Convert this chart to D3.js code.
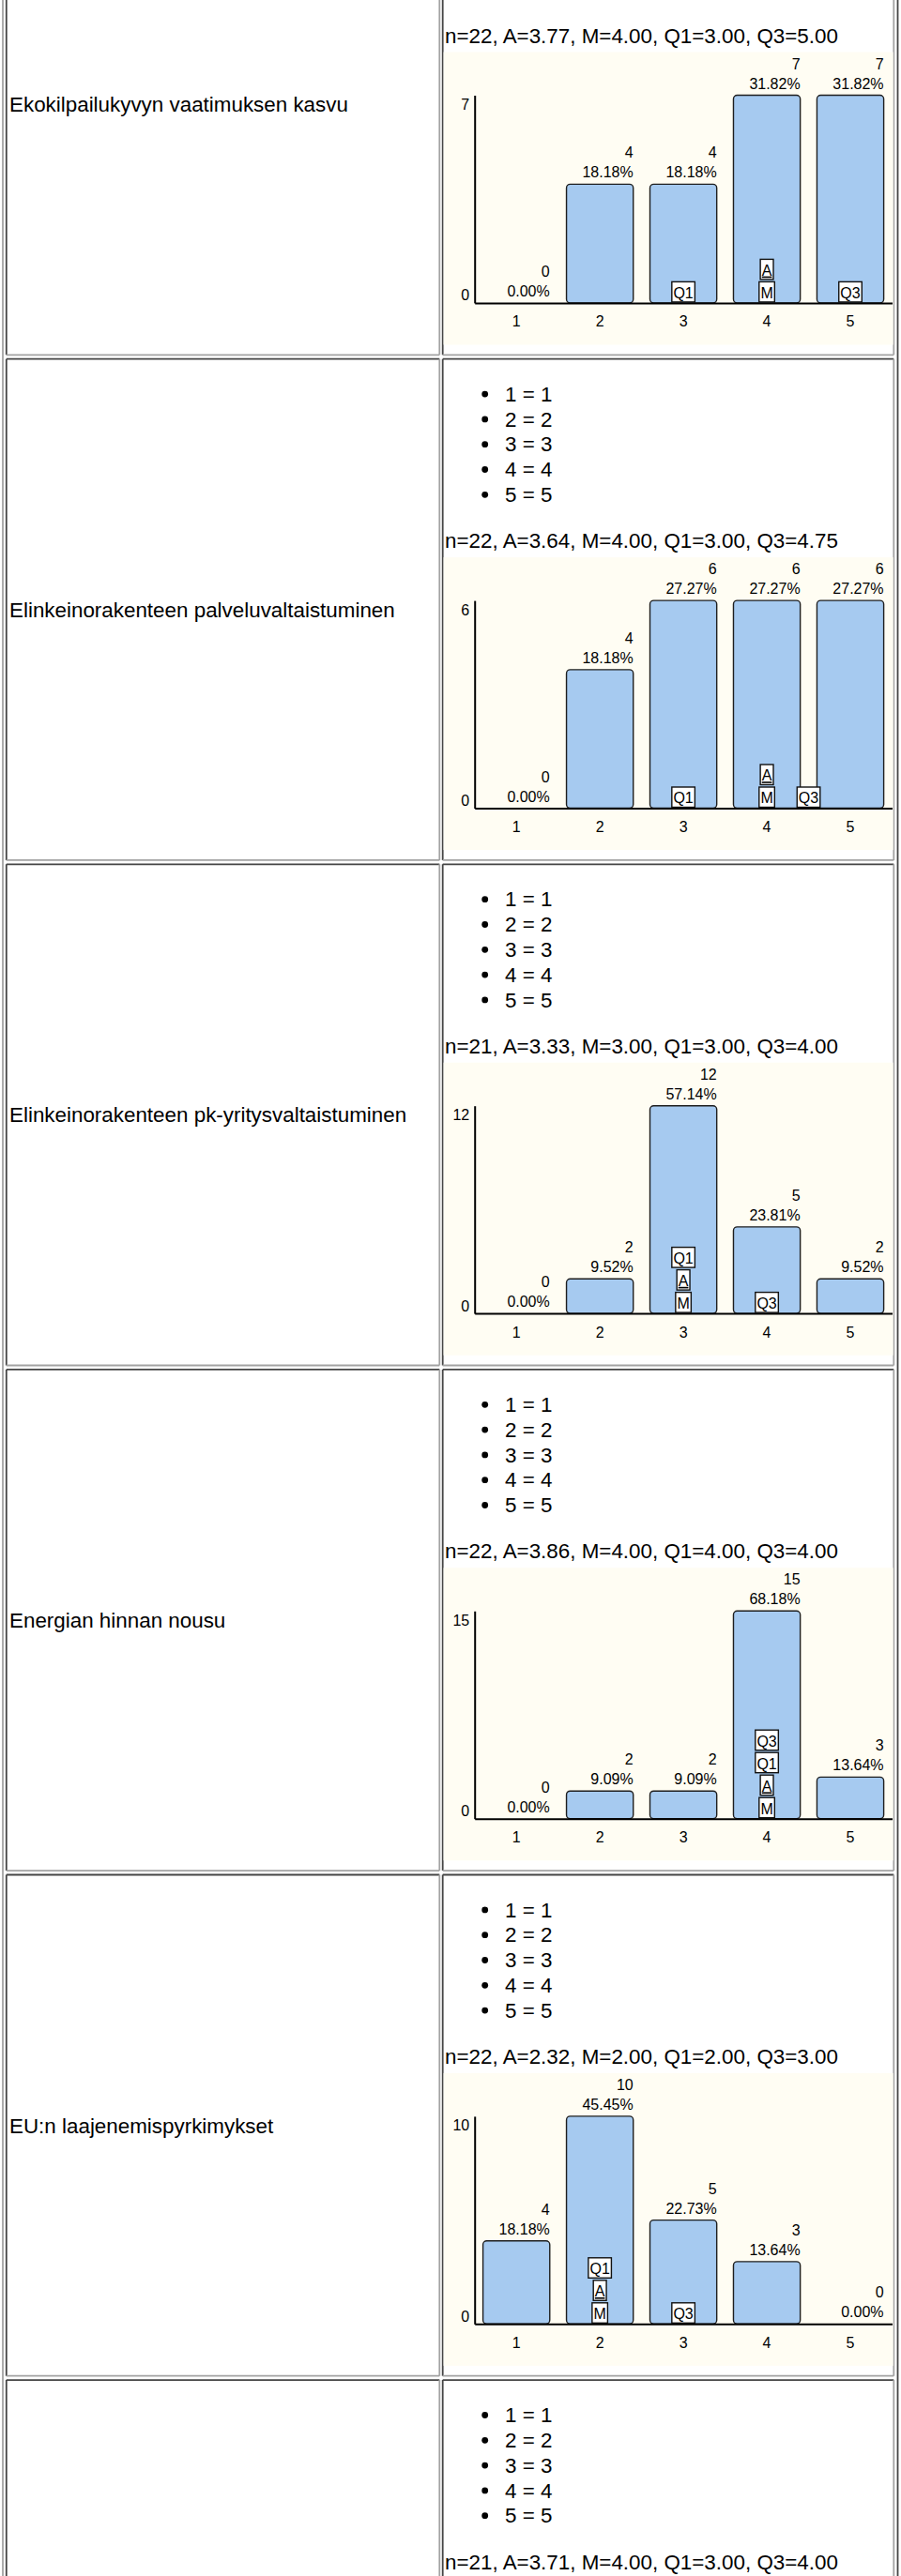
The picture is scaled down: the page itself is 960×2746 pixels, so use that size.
<!DOCTYPE html>
<html>
<head>
<meta charset="utf-8">
<script src="https://cdn.jsdelivr.net/npm/d3@7"></script>
<style>
  html, body { margin: 0; padding: 0; background: #ffffff; }
  svg { display: block; }
  text { font-family: "Liberation Sans", Arial, Helvetica, sans-serif; }
</style>
</head>
<body>
<div id="chart"></div>
<script>
// ---------------- DATA ----------------
const categories = ["1", "2", "3", "4", "5"];
const legendItems = ["1 = 1", "2 = 2", "3 = 3", "4 = 4", "5 = 5"];
const rowLabels = [
  "Ekokilpailukyvyn vaatimuksen kasvu",
  "Elinkeinorakenteen palveluvaltaistuminen",
  "Elinkeinorakenteen pk-yritysvaltaistuminen",
  "Energian hinnan nousu",
  "EU:n laajenemispyrkimykset",
  ""
];
const countsEko      = [0, 4, 4, 7, 7];
const countsPalvelu  = [0, 4, 6, 6, 6];
const countsPk       = [0, 2, 12, 5, 2];
const countsEnergia  = [0, 2, 2, 15, 3];
const countsEU       = [4, 10, 5, 3, 0];
const rowCounts = [countsEko, countsPalvelu, countsPk, countsEnergia, countsEU, null];

const statN  = [22, 22, 21, 22, 22, 21];
const statA  = [3.77, 3.64, 3.33, 3.86, 2.32, 3.71];
const statM  = [4.00, 4.00, 3.00, 4.00, 2.00, 4.00];
const statQ1 = [3.00, 3.00, 3.00, 4.00, 2.00, 3.00];
const statQ3 = [5.00, 4.75, 4.00, 4.00, 3.00, 4.00];

// ---------------- LAYOUT ----------------
const W = 960, H = 2746;
const rowPitch = 538.6;
const firstTop = 380.5 - rowPitch + 2.2;   // first row starts above the visible page
const bigFont = 22.4, smallFont = 16;
const dark = "#454545", light = "#a3a3a3";
const barFill = "#a6caf0", cream = "#fffdf3";

const svg = d3.select("#chart").append("svg")
  .attr("width", W).attr("height", H)
  .attr("viewBox", `0 0 ${W} ${H}`);

const leftX0 = 6.8, leftX1 = 468.3, rightX0 = 471.7, rightX1 = 952.3;

// table outer border (outset: left light, right dark)
svg.append("line").attr("x1", 3).attr("x2", 3).attr("y1", 0).attr("y2", H)
  .attr("stroke", light).attr("stroke-width", 1.8);
svg.append("line").attr("x1", 956.5).attr("x2", 956.5).attr("y1", 0).attr("y2", H)
  .attr("stroke", dark).attr("stroke-width", 1.8);

const fmtPct = d3.format(".2f");
const fmtStat = d3.format(".2f");

rowLabels.forEach((label, k) => {
  const top = firstTop + rowPitch * k;
  const bottom = top + 534.2;
  const row = svg.append("g").attr("class", "row");

  // cell borders (inset: top/left dark, bottom/right light)
  [[leftX0, leftX1], [rightX0, rightX1]].forEach(([x0, x1]) => {
    row.append("line").attr("x1", x0).attr("x2", x1).attr("y1", top).attr("y2", top)
      .attr("stroke", dark).attr("stroke-width", 1.8);
    row.append("line").attr("x1", x0).attr("x2", x0).attr("y1", top).attr("y2", bottom)
      .attr("stroke", dark).attr("stroke-width", 1.8);
    row.append("line").attr("x1", x0).attr("x2", x1).attr("y1", bottom).attr("y2", bottom)
      .attr("stroke", light).attr("stroke-width", 1.8);
    row.append("line").attr("x1", x1).attr("x2", x1).attr("y1", top).attr("y2", bottom)
      .attr("stroke", light).attr("stroke-width", 1.8);
  });

  // left label (vertically centred)
  if (label) {
    row.append("text").attr("x", 10).attr("y", top + 275)
      .attr("font-size", bigFont).attr("fill", "#000").text(label);
  }

  // legend bullets (only those that fall inside the visible page)
  const ul = row.append("g");
  legendItems.forEach((t, i) => {
    const by = top + 45 + 26.8 * i;
    if (by - 20 < 0) return;
    ul.append("circle").attr("cx", 516.7).attr("cy", by - 7.6).attr("r", 3.4).attr("fill", "#000");
    ul.append("text").attr("x", 538).attr("y", by).attr("font-size", bigFont).attr("fill", "#000").text(t);
  });

  // stats title
  row.append("text").attr("x", 474).attr("y", top + 201.4)
    .attr("font-size", bigFont).attr("fill", "#000")
    .text(`n=${statN[k]}, A=${fmtStat(statA[k])}, M=${fmtStat(statM[k])}, Q1=${fmtStat(statQ1[k])}, Q3=${fmtStat(statQ3[k])}`);

  const counts = rowCounts[k];
  if (!counts) return;

  // chart
  const chart = row.append("g").attr("class", "chart");
  chart.append("rect").attr("x", 472.6).attr("y", top + 211.4)
    .attr("width", 479).attr("height", 312).attr("fill", cream);

  const zeroY = top + 478.8, maxY = top + 257.4;
  const axisX = 505.7;
  const maxV = d3.max(counts);
  const data = categories.map((c, i) => ({ cat: c, v: counts[i] }));

  const xb = d3.scaleBand().domain(categories).range([axisX, 950.5])
    .paddingInner(0.2).paddingOuter(0.1);
  const ys = d3.scaleLinear().domain([0, maxV]).range([zeroY, maxY]);
  const xl = d3.scaleLinear().domain([1, 5])
    .range([xb("1") + xb.bandwidth() / 2, xb("5") + xb.bandwidth() / 2]);

  // bars
  chart.selectAll("rect.bar").data(data.filter(d => d.v > 0)).join("rect")
    .attr("class", "bar")
    .attr("x", d => xb(d.cat)).attr("width", xb.bandwidth())
    .attr("y", d => ys(d.v)).attr("height", d => zeroY - ys(d.v))
    .attr("rx", 4).attr("ry", 4)
    .attr("fill", barFill).attr("stroke", "#1e1e1e").attr("stroke-width", 1.4);

  // value labels
  chart.selectAll("text.cnt").data(data).join("text")
    .attr("class", "cnt")
    .attr("x", d => xb(d.cat) + xb.bandwidth()).attr("y", d => ys(d.v) - 28)
    .attr("text-anchor", "end").attr("font-size", smallFont).attr("fill", "#000")
    .text(d => d.v);
  chart.selectAll("text.pct").data(data).join("text")
    .attr("class", "pct")
    .attr("x", d => xb(d.cat) + xb.bandwidth()).attr("y", d => ys(d.v) - 7)
    .attr("text-anchor", "end").attr("font-size", smallFont).attr("fill", "#000")
    .text(d => fmtPct(d.v / statN[k] * 100) + "%");

  // y axis
  const yAxis = chart.append("g").attr("transform", `translate(${axisX},0)`)
    .call(d3.axisLeft(ys).tickValues([0, maxV]).tickSize(0).tickSizeOuter(0)
      .tickPadding(5.5).tickFormat(d3.format("d")));
  yAxis.attr("font-size", smallFont).attr("font-family", null);
  yAxis.select(".domain").attr("stroke", "#000").attr("stroke-width", 2);
  yAxis.selectAll("text").attr("fill", "#000").attr("font-size", smallFont)
    .attr("dy", d => d === 0 ? "-3px" : "15px");

  // x axis
  const xAxis = chart.append("g").attr("transform", `translate(0,${zeroY})`)
    .call(d3.axisBottom(xb).tickSize(0).tickSizeOuter(0));
  xAxis.attr("font-size", smallFont).attr("font-family", null);
  xAxis.select(".domain").attr("stroke", "#000").attr("stroke-width", 2);
  xAxis.selectAll("text").attr("fill", "#000").attr("font-size", smallFont)
    .attr("y", 25.5).attr("dy", null);

  // statistic markers (stacked M, A, Q1, Q3 from the axis upward)
  const markers = [
    { key: "M", v: statM[k] }, { key: "A", v: statA[k] },
    { key: "Q1", v: statQ1[k] }, { key: "Q3", v: statQ3[k] }
  ].map(m => ({
    ...m,
    pos: m.key === "A" ? Math.round(m.v)
        : (Number.isInteger(m.v) ? m.v : Math.floor(m.v) + 0.5)
  }));
  const stackCount = {};
  markers.forEach(m => {
    const i = stackCount[m.pos] || 0;
    stackCount[m.pos] = i + 1;
    const cx = xl(m.pos);
    const boxTop = zeroY - 22.5 - 24 * i;
    const g = chart.append("g");
    const rect = g.append("rect");
    const t = g.append("text").attr("x", cx).attr("y", boxTop + 17.3)
      .attr("text-anchor", "middle").attr("font-size", smallFont).attr("fill", "#000")
      .text(m.key);
    const tw = t.node().getComputedTextLength();
    rect.attr("x", cx - tw / 2 - 1.6).attr("y", boxTop)
      .attr("width", tw + 3.2).attr("height", 21.5)
      .attr("fill", "#fff").attr("stroke", "#111").attr("stroke-width", 1.4);
    if (m.key === "A") {
      g.append("line").attr("x1", cx - tw / 2).attr("x2", cx + tw / 2)
        .attr("y1", boxTop + 19).attr("y2", boxTop + 19)
        .attr("stroke", "#000").attr("stroke-width", 1.6);
    }
  });
});
</script>
</body>
</html>
